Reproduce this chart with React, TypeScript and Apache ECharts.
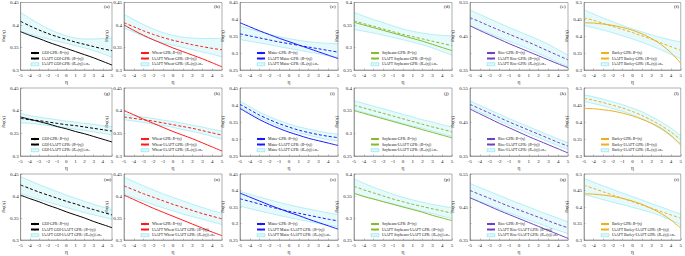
import React, { useEffect, useRef } from "react";
import * as echarts from "echarts";

const ETA = [-5, -4, -3, -2, -1, 0, 1, 2, 3, 4, 5];

// Row 1
const GPR_A = [0.385, 0.377, 0.370, 0.362, 0.355, 0.348, 0.341, 0.334, 0.327, 0.319, 0.311];
const MEAN_A = [0.408, 0.398, 0.389, 0.381, 0.374, 0.368, 0.362, 0.357, 0.352, 0.347, 0.343];
const UP_A = [0.428, 0.415, 0.403, 0.392, 0.383, 0.376, 0.371, 0.369, 0.369, 0.370, 0.371];
const LO_A = [0.386, 0.380, 0.374, 0.369, 0.364, 0.359, 0.354, 0.349, 0.343, 0.336, 0.328];

const GPR_B = [0.400, 0.388, 0.377, 0.367, 0.358, 0.349, 0.341, 0.333, 0.325, 0.316, 0.307];
const MEAN_B = [0.405, 0.396, 0.387, 0.379, 0.372, 0.366, 0.361, 0.356, 0.352, 0.348, 0.345];
const UP_B = [0.424, 0.412, 0.401, 0.391, 0.383, 0.377, 0.373, 0.371, 0.370, 0.370, 0.371];
const LO_B = [0.393, 0.384, 0.375, 0.367, 0.360, 0.355, 0.350, 0.345, 0.340, 0.335, 0.329];

const GPR_C = [0.390, 0.378, 0.366, 0.355, 0.344, 0.334, 0.324, 0.314, 0.304, 0.294, 0.284];
const MEAN_C = [0.357, 0.351, 0.345, 0.339, 0.333, 0.328, 0.323, 0.318, 0.313, 0.308, 0.303];
const UP_C = [0.380, 0.372, 0.364, 0.356, 0.349, 0.343, 0.338, 0.334, 0.331, 0.329, 0.328];
const LO_C = [0.340, 0.335, 0.330, 0.325, 0.319, 0.314, 0.309, 0.303, 0.298, 0.292, 0.287];

const GPR_D = [0.356, 0.350, 0.344, 0.338, 0.332, 0.326, 0.320, 0.314, 0.307, 0.300, 0.293];
const MEAN_D = [0.359, 0.353, 0.347, 0.341, 0.335, 0.329, 0.324, 0.319, 0.314, 0.309, 0.304];
const UP_D = [0.378, 0.370, 0.362, 0.355, 0.348, 0.341, 0.336, 0.332, 0.329, 0.327, 0.326];
const LO_D = [0.340, 0.336, 0.332, 0.327, 0.322, 0.317, 0.312, 0.306, 0.299, 0.291, 0.283];

const GPR_E = [0.481, 0.467, 0.454, 0.441, 0.428, 0.416, 0.404, 0.392, 0.380, 0.368, 0.357];
const MEAN_E = [0.505, 0.493, 0.480, 0.468, 0.456, 0.444, 0.432, 0.419, 0.406, 0.393, 0.380];
const UP_E = [0.528, 0.515, 0.502, 0.489, 0.476, 0.464, 0.452, 0.440, 0.426, 0.410, 0.394];
const LO_E = [0.482, 0.470, 0.458, 0.446, 0.435, 0.424, 0.412, 0.399, 0.386, 0.372, 0.360];

const GPR_F = [0.440, 0.439, 0.436, 0.432, 0.426, 0.418, 0.407, 0.393, 0.375, 0.351, 0.320];
const MEAN_F = [0.455, 0.447, 0.438, 0.429, 0.420, 0.411, 0.401, 0.391, 0.380, 0.369, 0.358];
const UP_F = [0.478, 0.466, 0.454, 0.443, 0.432, 0.422, 0.413, 0.404, 0.396, 0.389, 0.383];
const LO_F = [0.432, 0.425, 0.418, 0.410, 0.401, 0.392, 0.382, 0.371, 0.359, 0.346, 0.333];

// Row 2
const GPR_G = [0.386, 0.381, 0.376, 0.371, 0.365, 0.360, 0.354, 0.349, 0.343, 0.337, 0.331];
const MEAN_G = [0.383, 0.380, 0.378, 0.375, 0.372, 0.369, 0.367, 0.364, 0.361, 0.358, 0.355];
const UP_G = [0.394, 0.389, 0.386, 0.383, 0.380, 0.377, 0.375, 0.372, 0.370, 0.367, 0.365];
const LO_G = [0.373, 0.372, 0.370, 0.367, 0.364, 0.362, 0.359, 0.356, 0.353, 0.350, 0.346];

const GPR_H = [0.400, 0.391, 0.381, 0.372, 0.363, 0.354, 0.346, 0.338, 0.329, 0.320, 0.311];
const MEAN_H = [0.386, 0.383, 0.380, 0.377, 0.373, 0.369, 0.365, 0.361, 0.356, 0.351, 0.346];
const UP_H = [0.392, 0.389, 0.386, 0.383, 0.379, 0.376, 0.372, 0.368, 0.364, 0.359, 0.355];
const LO_H = [0.380, 0.377, 0.374, 0.370, 0.367, 0.363, 0.358, 0.354, 0.349, 0.343, 0.337];

const GPR_I = [0.390, 0.373, 0.357, 0.343, 0.331, 0.320, 0.311, 0.302, 0.295, 0.288, 0.281];
const MEAN_I = [0.402, 0.386, 0.370, 0.357, 0.345, 0.335, 0.326, 0.319, 0.313, 0.308, 0.304];
const UP_I = [0.412, 0.395, 0.379, 0.366, 0.354, 0.344, 0.336, 0.329, 0.323, 0.318, 0.314];
const LO_I = [0.393, 0.377, 0.362, 0.349, 0.337, 0.327, 0.318, 0.311, 0.304, 0.298, 0.294];

const GPR_J = [0.350, 0.344, 0.338, 0.332, 0.326, 0.320, 0.314, 0.308, 0.302, 0.296, 0.290];
const MEAN_J = [0.362, 0.356, 0.350, 0.344, 0.338, 0.332, 0.326, 0.320, 0.314, 0.309, 0.303];
const UP_J = [0.372, 0.366, 0.360, 0.354, 0.348, 0.342, 0.336, 0.330, 0.325, 0.319, 0.314];
const LO_J = [0.352, 0.346, 0.340, 0.334, 0.328, 0.322, 0.316, 0.311, 0.305, 0.299, 0.293];

const GPR_K = [0.488, 0.474, 0.460, 0.446, 0.433, 0.420, 0.407, 0.395, 0.383, 0.371, 0.359];
const MEAN_K = [0.502, 0.489, 0.476, 0.463, 0.450, 0.438, 0.426, 0.414, 0.402, 0.390, 0.379];
const UP_K = [0.512, 0.499, 0.486, 0.473, 0.460, 0.448, 0.436, 0.424, 0.412, 0.400, 0.389];
const LO_K = [0.492, 0.479, 0.466, 0.453, 0.440, 0.428, 0.416, 0.404, 0.392, 0.380, 0.369];

const GPR_L = [0.440, 0.439, 0.436, 0.432, 0.426, 0.418, 0.408, 0.396, 0.381, 0.360, 0.332];
const MEAN_L = [0.470, 0.464, 0.457, 0.449, 0.441, 0.431, 0.419, 0.405, 0.389, 0.370, 0.348];
const UP_L = [0.480, 0.474, 0.467, 0.459, 0.451, 0.441, 0.430, 0.416, 0.400, 0.382, 0.360];
const LO_L = [0.460, 0.454, 0.447, 0.439, 0.431, 0.421, 0.409, 0.395, 0.378, 0.358, 0.336];

// Row 3
const GPR_M = [0.402, 0.394, 0.387, 0.379, 0.372, 0.364, 0.357, 0.350, 0.342, 0.335, 0.328];
const MEAN_M = [0.425, 0.417, 0.409, 0.402, 0.395, 0.388, 0.382, 0.375, 0.369, 0.363, 0.357];
const UP_M = [0.444, 0.435, 0.426, 0.418, 0.410, 0.402, 0.395, 0.388, 0.381, 0.375, 0.369];
const LO_M = [0.406, 0.399, 0.392, 0.386, 0.380, 0.374, 0.368, 0.362, 0.357, 0.352, 0.347];

const GPR_N = [0.402, 0.392, 0.382, 0.372, 0.363, 0.354, 0.345, 0.336, 0.327, 0.318, 0.310];
const MEAN_N = [0.423, 0.414, 0.405, 0.397, 0.389, 0.381, 0.374, 0.367, 0.360, 0.354, 0.348];
const UP_N = [0.443, 0.433, 0.423, 0.414, 0.405, 0.397, 0.389, 0.381, 0.374, 0.367, 0.361];
const LO_N = [0.404, 0.396, 0.388, 0.380, 0.373, 0.366, 0.359, 0.353, 0.347, 0.341, 0.335];

const GPR_O = [0.392, 0.380, 0.368, 0.356, 0.345, 0.334, 0.324, 0.313, 0.303, 0.293, 0.283];
const MEAN_O = [0.375, 0.367, 0.359, 0.351, 0.344, 0.337, 0.331, 0.325, 0.319, 0.313, 0.308];
const UP_O = [0.397, 0.389, 0.380, 0.372, 0.364, 0.357, 0.350, 0.344, 0.338, 0.332, 0.327];
const LO_O = [0.353, 0.345, 0.338, 0.331, 0.324, 0.318, 0.312, 0.306, 0.300, 0.295, 0.290];

const GPR_P = [0.356, 0.349, 0.343, 0.337, 0.331, 0.325, 0.319, 0.313, 0.306, 0.300, 0.294];
const MEAN_P = [0.372, 0.364, 0.357, 0.350, 0.343, 0.337, 0.331, 0.326, 0.321, 0.316, 0.311];
const UP_P = [0.389, 0.379, 0.370, 0.362, 0.354, 0.347, 0.341, 0.336, 0.331, 0.327, 0.323];
const LO_P = [0.356, 0.349, 0.343, 0.337, 0.332, 0.326, 0.321, 0.315, 0.310, 0.304, 0.299];

const GPR_Q = [0.478, 0.465, 0.452, 0.439, 0.427, 0.415, 0.403, 0.391, 0.379, 0.367, 0.355];
const MEAN_Q = [0.500, 0.488, 0.476, 0.464, 0.452, 0.441, 0.430, 0.419, 0.408, 0.397, 0.387];
const UP_Q = [0.522, 0.509, 0.497, 0.485, 0.473, 0.461, 0.450, 0.438, 0.427, 0.416, 0.405];
const LO_Q = [0.478, 0.467, 0.455, 0.443, 0.432, 0.421, 0.410, 0.400, 0.389, 0.379, 0.369];

const GPR_R = [0.440, 0.439, 0.436, 0.432, 0.426, 0.418, 0.408, 0.395, 0.380, 0.360, 0.336];
const MEAN_R = [0.466, 0.456, 0.446, 0.436, 0.426, 0.416, 0.406, 0.396, 0.386, 0.376, 0.366];
const UP_R = [0.486, 0.475, 0.464, 0.453, 0.442, 0.432, 0.421, 0.410, 0.400, 0.389, 0.379];
const LO_R = [0.438, 0.430, 0.422, 0.414, 0.407, 0.399, 0.391, 0.383, 0.372, 0.360, 0.346];

const CROPS = ["GOI", "Wheat", "Maize", "Soybeans", "Rice", "Barley"];
const TAGS = [
  ["(a)", "(b)", "(c)", "(d)", "(e)", "(f)"],
  ["(g)", "(h)", "(i)", "(j)", "(k)", "(l)"],
  ["(m)", "(n)", "(o)", "(p)", "(q)", "(r)"],
];
const PANEL_DATA = [
  [[GPR_A, MEAN_A, UP_A, LO_A], [GPR_B, MEAN_B, UP_B, LO_B], [GPR_C, MEAN_C, UP_C, LO_C],
   [GPR_D, MEAN_D, UP_D, LO_D], [GPR_E, MEAN_E, UP_E, LO_E], [GPR_F, MEAN_F, UP_F, LO_F]],
  [[GPR_G, MEAN_G, UP_G, LO_G], [GPR_H, MEAN_H, UP_H, LO_H], [GPR_I, MEAN_I, UP_I, LO_I],
   [GPR_J, MEAN_J, UP_J, LO_J], [GPR_K, MEAN_K, UP_K, LO_K], [GPR_L, MEAN_L, UP_L, LO_L]],
  [[GPR_M, MEAN_M, UP_M, LO_M], [GPR_N, MEAN_N, UP_N, LO_N], [GPR_O, MEAN_O, UP_O, LO_O],
   [GPR_P, MEAN_P, UP_P, LO_P], [GPR_Q, MEAN_Q, UP_Q, LO_Q], [GPR_R, MEAN_R, UP_R, LO_R]],
];
const Y_RANGES = [[0.3, 0.45], [0.3, 0.45], [0.25, 0.45], [0.25, 0.4], [0.35, 0.55], [0.3, 0.5]];
const RICE_TICK_LABELS = [0.35, 0.45, 0.55];

// Styling / layout
const FONT = "'Liberation Serif', 'DejaVu Serif', serif";
const COLORS = ["#000000", "#ff1a1a", "#1a1aff", "#86bc2c", "#6f42c1", "#edb120"];
const COL_LEFT = [14, 124, 240, 354, 470, 584];
const PLOT_W = 98;
const ROW_TOP = [1, 88, 174];
const ROW_BOT = [70, 156, 241];
const BAND_FILL = "rgba(0,205,225,0.14)";
const BAND_LINE = "rgba(0,200,225,0.5)";
const AXIS_COLOR = "#7a7a7a";

function names(row: number, crop: string) {
  const gpr = `${crop}-GPR: Rsq(η)`;
  let mean: string;
  if (row === 0) mean = `IAAFT ${crop}-GPR: ⟨Rsq(η)⟩`;
  else if (row === 1) mean = `${crop}-IAAFT GPR: ⟨Rsq(η)⟩`;
  else mean = `IAAFT ${crop}-IAAFT GPR: ⟨Rsq(η)⟩`;
  return { gpr, mean, band: `${mean}±σR` };
}

function buildOption() {
  const grid: any[] = [];
  const xAxis: any[] = [];
  const yAxis: any[] = [];
  const series: any[] = [];
  const legend: any[] = [];
  const graphic: any[] = [];
  const cats = ETA.map(String);
  const diff = (up: number[], lo: number[]) => up.map((u, i) => +(u - lo[i]).toFixed(4));

  for (let r = 0; r < 3; r++) {
    for (let c = 0; c < 6; c++) {
      const idx = r * 6 + c;
      const [gpr, mean, up, lo] = PANEL_DATA[r][c];
      const color = COLORS[c];
      const nm = names(r, CROPS[c]);
      const top = ROW_TOP[r];
      const h = ROW_BOT[r] - ROW_TOP[r];
      const left = COL_LEFT[c];
      const [ymin, ymax] = Y_RANGES[c];

      grid.push({
        left, top, width: PLOT_W, height: h, show: true,
        borderColor: AXIS_COLOR, borderWidth: 0.6, backgroundColor: "transparent",
      });
      xAxis.push({
        gridIndex: idx, type: "category", data: cats, boundaryGap: false,
        name: "η", nameLocation: "middle", nameGap: 9,
        nameTextStyle: { fontFamily: FONT, fontSize: 5.5, color: "#222" },
        axisLine: { show: true, onZero: false, lineStyle: { color: AXIS_COLOR, width: 0.6 } },
        axisTick: { show: true, inside: true, length: 1.5, interval: 0, lineStyle: { color: AXIS_COLOR, width: 0.5 } },
        axisLabel: { fontFamily: FONT, fontSize: 5, color: "#222", margin: 2.5, interval: 0 },
        splitLine: { show: false },
      });
      yAxis.push({
        gridIndex: idx, type: "value", min: ymin, max: ymax, interval: 0.05,
        name: "{i|R}{s|sq}(η)", nameLocation: "middle", nameGap: 11, nameRotate: 90,
        nameTextStyle: {
          fontFamily: FONT, fontSize: 5, color: "#222",
          rich: { i: { fontFamily: FONT, fontSize: 5, fontStyle: "italic", color: "#222" }, s: { fontFamily: FONT, fontSize: 3.6, color: "#222" } },
        },
        axisLine: { show: true, lineStyle: { color: AXIS_COLOR, width: 0.6 } },
        axisTick: { show: true, inside: true, length: 1.5, lineStyle: { color: AXIS_COLOR, width: 0.5 } },
        axisLabel: {
          fontFamily: FONT, fontSize: 5, color: "#222", margin: 2,
          formatter: (v: number) => {
            const rv = +v.toFixed(2);
            if (c === 4 && !RICE_TICK_LABELS.some((t) => Math.abs(t - rv) < 1e-6)) return "";
            return String(rv);
          },
        },
        splitLine: { show: false },
      });

      series.push({
        type: "line", xAxisIndex: idx, yAxisIndex: idx, data: lo, stack: "band" + idx,
        symbol: "none", smooth: 0.3, silent: true, z: 1,
        lineStyle: { color: BAND_LINE, width: 0.5 },
      });
      series.push({
        type: "line", name: nm.band, xAxisIndex: idx, yAxisIndex: idx, data: diff(up, lo), stack: "band" + idx,
        symbol: "none", smooth: 0.3, silent: true, z: 1,
        lineStyle: { color: BAND_LINE, width: 0.5 },
        itemStyle: { color: BAND_FILL },
        areaStyle: { color: BAND_FILL },
      });
      series.push({
        type: "line", name: nm.gpr, xAxisIndex: idx, yAxisIndex: idx, data: gpr,
        symbol: "none", smooth: 0.3, z: 3,
        lineStyle: { color, width: 1 }, itemStyle: { color },
      });
      series.push({
        type: "line", name: nm.mean, xAxisIndex: idx, yAxisIndex: idx, data: mean,
        symbol: "none", smooth: 0.3, z: 4,
        lineStyle: { color, width: 1, type: [3, 2] }, itemStyle: { color },
      });

      legend.push({
        orient: "vertical", left: left + 16, top: ROW_BOT[r] - 19,
        itemWidth: 8, itemHeight: 3, itemGap: 1.6, padding: 0, selectedMode: false,
        textStyle: {
          fontFamily: FONT, fontSize: 3.8, color: "#111", padding: [0, 0, 0, -2],
          rich: {
            i: { fontFamily: FONT, fontSize: 3.8, fontStyle: "italic", color: "#111" },
            s: { fontFamily: FONT, fontSize: 2.8, color: "#111" },
          },
        },
        formatter: (name: string) => name.replace("Rsq", "{i|R}{s|sq}").replace("σR", "σ{s|R}"),
        data: [
          { name: nm.gpr },
          { name: nm.mean },
          { name: nm.band, icon: "rect", itemStyle: { color: BAND_FILL, borderColor: BAND_LINE, borderWidth: 0.5 } },
        ],
      });

      graphic.push({
        type: "text", x: left + PLOT_W - 8, y: top + 3, z: 10,
        style: { text: TAGS[r][c], fontFamily: FONT, fontSize: 5, fill: "#111" },
      });
    }
  }

  return {
    animation: false,
    backgroundColor: "#ffffff",
    grid, xAxis, yAxis, series, legend, graphic,
  };
}

export default function App() {
  const ref = useRef<HTMLDivElement>(null);
  useEffect(() => {
    if (!ref.current) return;
    const chart = echarts.init(ref.current, undefined, { renderer: "svg" });
    chart.setOption(buildOption() as any);
    return () => chart.dispose();
  }, []);
  return (
    <div
      ref={ref}
      style={{ position: "fixed", left: 0, top: 0, width: 685, height: 256, background: "#fff" }}
    />
  );
}
